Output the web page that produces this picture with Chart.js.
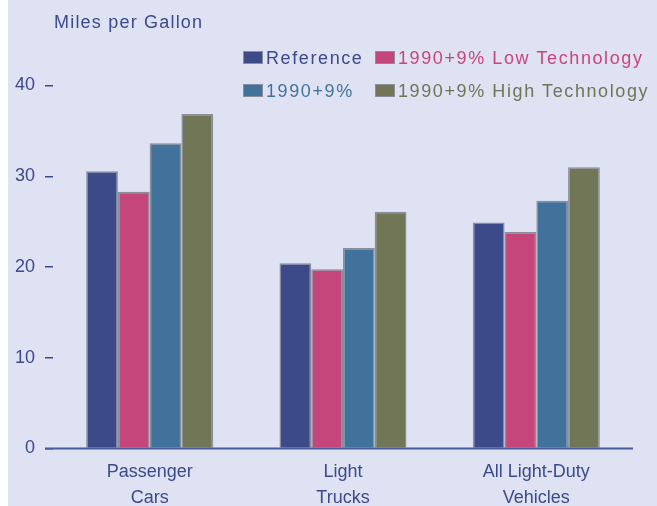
<!DOCTYPE html>
<html>
<head>
<meta charset="utf-8">
<script src="https://cdn.jsdelivr.net/npm/chart.js@4"></script>
<style>
  html, body { margin: 0; padding: 0; }
  body { width: 657px; height: 506px; background: #dfe2f2; position: relative; overflow: hidden;
         font-family: "Liberation Sans", Arial, sans-serif; }
  #strip { position: absolute; left: 0; top: 0; width: 8px; height: 506px; background: #ffffff; }
  #wrap { position: absolute; left: 0; top: 0; width: 657px; height: 506px; }
  #ytitle { position: absolute; left: 54px; top: 12px; font-size: 18px; color: #3b4a8c; letter-spacing: 1.2px; white-space: nowrap; }
  .leg { position: absolute; font-size: 18px; letter-spacing: 1.6px; white-space: nowrap; line-height: 20px; }
  .leg .box { display: inline-block; width: 18px; height: 11px; border: 1.5px solid #8a8d9a; vertical-align: middle; margin-right: 3px; position: relative; top: -2px; }
</style>
</head>
<body>
<div id="strip"></div>
<div id="wrap"><canvas id="c" width="657" height="506"></canvas></div>
<div id="ytitle">Miles per Gallon</div>
<div id="legend"></div>
<script>
const categories = [["Passenger", "Cars"], ["Light", "Trucks"], ["All Light-Duty", "Vehicles"]];
const seriesNames = ["Reference", "1990+9% Low Technology", "1990+9%", "1990+9% High Technology"];
const reference = [30.55, 20.4, 24.9];
const lowTechnology = [28.3, 19.75, 23.85];
const base1990plus9 = [33.65, 22.1, 27.3];
const highTechnology = [36.85, 26.1, 31.0];
const yTicks = [0, 10, 20, 30, 40];

const barColors = ["#3c4a8a", "#c5467a", "#41729b", "#717756"];
const textColors = ["#3b4a8c", "#c8457a", "#41739b", "#6f7555"];
const navy = "#3b4a8c";
const seriesValues = [reference, lowTechnology, base1990plus9, highTechnology];

// legend (HTML), laid out in two rows as in the reference
const legendPos = [[243, 48], [375, 48], [243, 81], [375, 81]];
const legendEl = document.getElementById('legend');
seriesNames.forEach((name, i) => {
  const d = document.createElement('div');
  d.className = 'leg';
  d.style.left = legendPos[i][0] + 'px';
  d.style.top = legendPos[i][1] + 'px';
  d.style.color = textColors[i];
  const b = document.createElement('span');
  b.className = 'box';
  b.style.background = barColors[i];
  d.appendChild(b);
  d.appendChild(document.createTextNode(name));
  legendEl.appendChild(d);
});

const axisLine = {
  id: 'axisLine',
  afterDatasetsDraw(chart) {
    const ctx = chart.ctx;
    const y = chart.scales.y.getPixelForValue(0);
    ctx.save();
    ctx.strokeStyle = '#4b5a9c';
    ctx.lineWidth = 2;
    ctx.beginPath();
    ctx.moveTo(45, y);
    ctx.lineTo(chart.chartArea.right, y);
    ctx.stroke();
    ctx.restore();
  }
};

new Chart(document.getElementById('c'), {
  type: 'bar',
  data: {
    labels: categories,
    datasets: seriesValues.map((v, i) => ({
      label: seriesNames[i],
      data: v,
      backgroundColor: barColors[i],
      borderColor: '#8a8d9a',
      borderWidth: 1.5,
      categoryPercentage: 0.657,
      barPercentage: 1.0
    }))
  },
  options: {
    responsive: false,
    animation: false,
    devicePixelRatio: 1,
    layout: { padding: { top: 85.5, right: 24, left: 0, bottom: 0 } },
    plugins: { legend: { display: false }, tooltip: { enabled: false }, title: { display: false } },
    scales: {
      x: {
        grid: { display: false, drawTicks: false },
        border: { display: false },
        ticks: {
          color: navy,
          font: { family: "'Liberation Sans', Arial, sans-serif", size: 18, lineHeight: 1.45 },
          padding: 10,
          maxRotation: 0,
          autoSkip: false
        },
        afterFit(scale) { scale.height = 57.5; }
      },
      y: {
        min: 0, max: 40,
        afterBuildTicks(scale) { scale.ticks = yTicks.map(v => ({ value: v })); },
        grid: { drawOnChartArea: false, drawTicks: true, tickLength: 8, color: navy, lineWidth: 1.5 },
        border: { display: false },
        ticks: {
          color: navy,
          font: { family: "'Liberation Sans', Arial, sans-serif", size: 18 },
          padding: 10
        },
        afterFit(scale) { scale.width = 53; }
      }
    }
  },
  plugins: [axisLine]
});
</script>
</body>
</html>
